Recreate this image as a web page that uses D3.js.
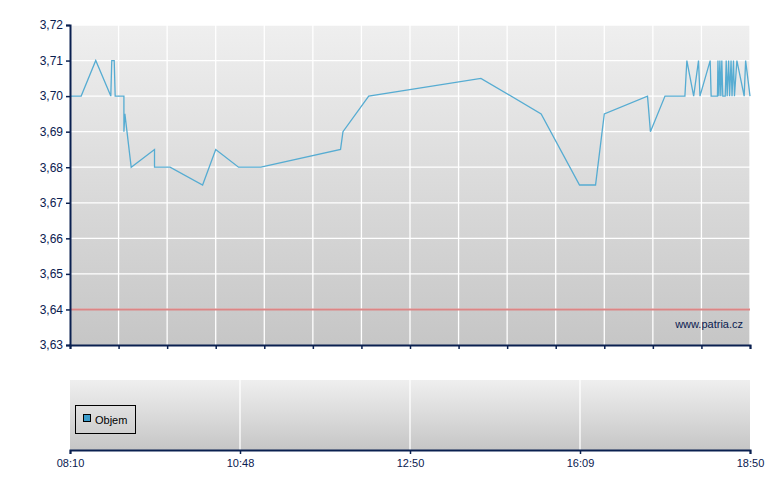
<!DOCTYPE html>
<html><head><meta charset="utf-8">
<script src="https://cdn.jsdelivr.net/npm/d3@7"></script>
<style>body{margin:0;background:#fff}svg{display:block}text{font-family:"Liberation Sans",Arial,sans-serif}</style>
</head><body><div id="chart"></div>
<script>
// x positions on the (non-linear) trading-time axis, in grid units 0..14
const priceX = [0,0.23,0.53,0.84,0.86,0.91,0.93,1.11,1.11,1.13,1.26,1.74,1.74,2.06,2.73,3.00,3.47,3.93,5.57,5.62,6.15,8.46,9.70,10.49,10.82,11.00,11.89,11.95,12.25,12.66,12.70,12.84,12.94,12.97,13.18,13.20,13.33,13.34,13.36,13.38,13.40,13.42,13.44,13.49,13.51,13.53,13.56,13.58,13.61,13.63,13.66,13.68,13.73,13.88,13.91,14];
const priceY = [3.70,3.70,3.71,3.70,3.71,3.71,3.70,3.70,3.69,3.695,3.68,3.685,3.68,3.68,3.675,3.685,3.68,3.68,3.685,3.69,3.70,3.705,3.695,3.675,3.675,3.695,3.70,3.69,3.70,3.70,3.71,3.70,3.71,3.70,3.71,3.70,3.70,3.71,3.70,3.71,3.70,3.71,3.70,3.70,3.71,3.70,3.71,3.70,3.71,3.70,3.71,3.70,3.71,3.70,3.71,3.70];
const refLevel = 3.64;
const yTicks = [3.63,3.64,3.65,3.66,3.67,3.68,3.69,3.70,3.71,3.72];
const xGridUnits = d3.range(0,15);
const timeLabels = ["08:10","10:48","12:50","16:09","18:50"];
const timeLabelPos = [0,3.5,7,10.5,14];
const legendLabel = "Objem";
const watermark = "www.patria.cz";

const W=780,H=490;
const svg=d3.select("#chart").append("svg").attr("width",W).attr("height",H);
const navy="#0a2050";
const x=d3.scaleLinear().domain([0,14]).range([70,750]);
const y=d3.scaleLinear().domain([3.63,3.72]).range([345,25]);

const defs=svg.append("defs");
const g1=defs.append("linearGradient").attr("id","bg").attr("x1",0).attr("y1",0).attr("x2",0).attr("y2",1);
g1.append("stop").attr("offset","0%").attr("stop-color","#efefef");
g1.append("stop").attr("offset","100%").attr("stop-color","#c6c6c6");

// main panel
svg.append("rect").attr("x",70).attr("y",25).attr("width",680).attr("height",320).attr("fill","url(#bg)");
svg.append("g").selectAll("line").data(yTicks.slice(1)).join("line")
  .attr("x1",70).attr("x2",750).attr("y1",d=>y(d)).attr("y2",d=>y(d)).attr("stroke","#fff").attr("stroke-width",1.3);
svg.append("g").selectAll("line").data(xGridUnits.slice(1)).join("line")
  .attr("x1",d=>x(d)).attr("x2",d=>x(d)).attr("y1",25).attr("y2",345).attr("stroke","#fff").attr("stroke-width",1.3);

svg.append("line").attr("x1",70).attr("x2",750).attr("y1",y(refLevel)).attr("y2",y(refLevel))
  .attr("stroke","#dc8585").attr("stroke-width",2);

svg.append("text").attr("x",743).attr("y",328).attr("text-anchor","end").attr("font-size",11).attr("fill",navy).text(watermark);

const line=d3.line().x((d,i)=>x(priceX[i])).y(d=>y(d));
svg.append("path").datum(priceY).attr("d",line).attr("fill","none").attr("stroke","#56acd2").attr("stroke-width",1.3);

// y axis
const ya=svg.append("g").attr("transform","translate(70,0)")
  .call(d3.axisLeft(y).tickValues(yTicks).tickSize(4).tickPadding(3).tickFormat(d=>d3.format(".2f")(d).replace(".",",")));
ya.select(".domain").attr("stroke",navy).attr("stroke-width",2);
ya.selectAll(".tick line").attr("stroke",navy).attr("stroke-width",1.5);
ya.selectAll("text").attr("fill",navy).attr("font-size",12).attr("font-family","Liberation Sans, Arial, sans-serif");

// x axis main (ticks only)
const xa=svg.append("g").attr("transform","translate(0,345)")
  .call(d3.axisBottom(x).tickValues(xGridUnits).tickSize(4).tickFormat(""));
xa.select(".domain").attr("stroke",navy).attr("stroke-width",2);
xa.selectAll(".tick line").attr("stroke",navy).attr("stroke-width",1.5);

// volume panel
const y2top=380,y2bot=450;
svg.append("rect").attr("x",70).attr("y",y2top).attr("width",680).attr("height",y2bot-y2top).attr("fill","url(#bg)");
svg.append("g").selectAll("line").data(timeLabelPos.slice(1,-1)).join("line")
  .attr("x1",d=>x(d)).attr("x2",d=>x(d)).attr("y1",y2top).attr("y2",y2bot).attr("stroke","#fff").attr("stroke-width",1.3);
const xb=svg.append("g").attr("transform","translate(0,"+y2bot+")")
  .call(d3.axisBottom(x).tickValues(timeLabelPos).tickSize(4).tickPadding(5).tickFormat((d,i)=>timeLabels[i]));
xb.select(".domain").attr("stroke",navy).attr("stroke-width",2);
xb.selectAll(".tick line").attr("stroke",navy).attr("stroke-width",1.5);
xb.selectAll("text").attr("fill",navy).attr("font-size",11).attr("font-family","Liberation Sans, Arial, sans-serif");

// legend
const lg=svg.append("g");
lg.append("rect").attr("x",75.5).attr("y",405.5).attr("width",60).attr("height",28).attr("fill","none").attr("stroke","#000").attr("stroke-width",1);
lg.append("rect").attr("x",83.5).attr("y",414.5).attr("width",7).attr("height",7).attr("fill","#3a9ccc").attr("stroke","#000").attr("stroke-width",1);
lg.append("text").attr("x",95).attr("y",424).attr("font-size",11).attr("fill","#000").text(legendLabel);
</script></body></html>
